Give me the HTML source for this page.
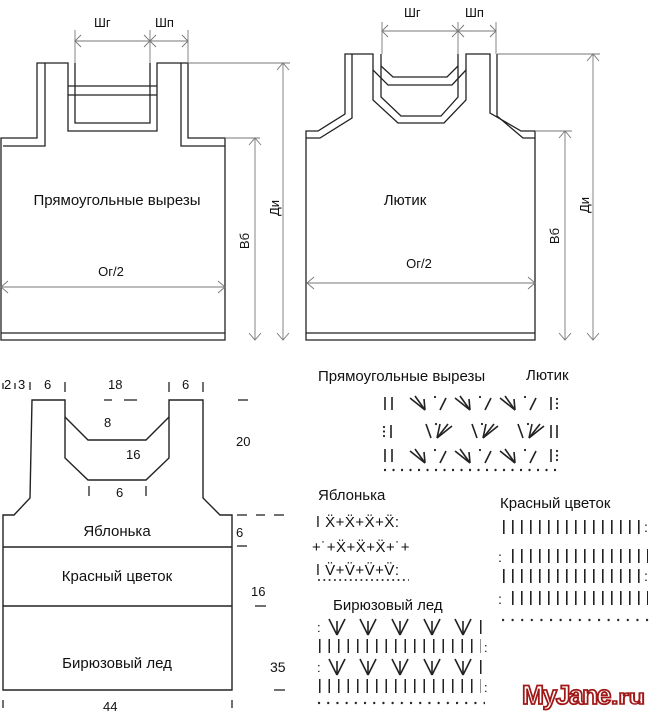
<!DOCTYPE html>
<html><head><meta charset="utf-8"><style>
html,body{margin:0;padding:0;background:#fff;}
svg{display:block;}
text{font-family:"Liberation Sans","DejaVu Sans",sans-serif;fill:#111;}
</style></head><body>
<svg width="650" height="715" viewBox="0 0 650 715" xmlns="http://www.w3.org/2000/svg">
<defs>
<pattern id="bars" x="503" y="0" width="9" height="715" patternUnits="userSpaceOnUse"><rect x="0" y="0" width="1.6" height="715" fill="#222"/></pattern>
<pattern id="bars2" x="319" y="0" width="9.5" height="715" patternUnits="userSpaceOnUse"><rect x="0" y="0" width="1.5" height="715" fill="#222"/></pattern>
<pattern id="dots" x="384" y="0" width="8.5" height="715" patternUnits="userSpaceOnUse"><circle cx="1" cy="470" r="1.2" fill="#222"/></pattern>
<pattern id="dotsK" x="502" y="0" width="9.6" height="715" patternUnits="userSpaceOnUse"><circle cx="1" cy="620" r="1.2" fill="#222"/></pattern>
<pattern id="dotsB" x="318" y="0" width="9.2" height="715" patternUnits="userSpaceOnUse"><circle cx="1" cy="703" r="1.2" fill="#222"/></pattern>
<pattern id="dotsY" x="318" y="0" width="5.3" height="715" patternUnits="userSpaceOnUse"><circle cx="1" cy="580" r="1" fill="#222"/></pattern>
<g id="fanA" stroke="#222" stroke-width="1.6" fill="none"><line x1="0" y1="3" x2="15" y2="15"/><line x1="5" y1="1" x2="15" y2="15"/><line x1="14" y1="4" x2="15" y2="15"/><line x1="30" y1="15" x2="36" y2="3"/><circle cx="25" cy="2" r="1.1" fill="#222" stroke="none"/></g>
<g id="fanB" stroke="#222" stroke-width="1.6" fill="none"><line x1="0" y1="0" x2="5" y2="14"/><line x1="11" y1="14" x2="26" y2="2"/><line x1="11" y1="14" x2="22" y2="0"/><line x1="11" y1="14" x2="14" y2="0"/><circle cx="10" cy="0" r="1.1" fill="#222" stroke="none"/></g>
<g id="vv" stroke="#222" stroke-width="1.6" fill="none"><line x1="-8" y1="0" x2="0" y2="16"/><line x1="8" y1="0" x2="0" y2="16"/><line x1="0" y1="2" x2="0" y2="16"/></g>
</defs>

<!-- Diagram 1 -->
<g stroke="#222" stroke-width="1.3" fill="none">
<path d="M1,340 V138 H37 V63 H68 V131 H157 V63 H188 V138 H225 V340 Z"/>
<path d="M3,146 H45 V63 M75,63 V123 H150 V63 M181,63 V146 H225"/>
<line x1="68" y1="86" x2="157" y2="86"/><line x1="68" y1="95" x2="157" y2="95"/>
<line x1="1" y1="333" x2="225" y2="333"/>
</g>
<g stroke="#777" stroke-width="0.9" fill="none">
<line x1="75" y1="41" x2="188" y2="41"/><line x1="75" y1="30" x2="75" y2="63"/><line x1="150" y1="30" x2="150" y2="63"/><line x1="188" y1="30" x2="188" y2="63"/>
<path d="M81,35 L75,41 L81,47 M144,35 L150,41 L144,47 M156,35 L150,41 L156,47 M182,35 L188,41 L182,47"/>
<line x1="188" y1="63" x2="290" y2="63"/><line x1="283" y1="63" x2="283" y2="340"/>
<path d="M277,70 L283,63 L289,70 M277,333 L283,340 L289,333"/>
<line x1="225" y1="138" x2="260" y2="138"/><line x1="255" y1="138" x2="255" y2="340"/>
<path d="M249,145 L255,138 L261,145 M249,333 L255,340 L261,333"/>
<line x1="1" y1="287" x2="225" y2="287"/>
<path d="M8,281 L1,287 L8,293 M218,281 L225,287 L218,293"/>
</g>
<text x="94" y="27" font-size="13">Шг</text><text x="155" y="27" font-size="13">Шп</text>
<text x="117" y="205" font-size="15" text-anchor="middle">Прямоугольные вырезы</text>
<text x="111" y="276" font-size="13" text-anchor="middle">Ог/2</text>
<text transform="translate(249,241) rotate(-90)" font-size="13" text-anchor="middle">Вб</text>
<text transform="translate(279,208) rotate(-90)" font-size="13" text-anchor="middle">Ди</text>

<!-- Diagram 2 -->
<g stroke="#222" stroke-width="1.3" fill="none">
<path d="M306,340 V131 H318 L345,114 V54 H373 V100 L398,123 H444 L466,100 V54 H490 V113 L521,131 H535 V340 Z"/>
<path d="M306,138 H320 L352,118 V54 M381,54 V97 L401,116 H441 L458,97 V54 M497,54 V116 L523,138 H535"/>
<path d="M381,66 L393,77 H447 L458,66 M373,70 L388,85 H452 L466,70"/>
<line x1="306" y1="333" x2="535" y2="333"/>
</g>
<g stroke="#777" stroke-width="0.9" fill="none">
<line x1="382" y1="31" x2="496" y2="31"/><line x1="382" y1="22" x2="382" y2="54"/><line x1="458" y1="22" x2="458" y2="54"/><line x1="496" y1="22" x2="496" y2="54"/>
<path d="M388,25 L382,31 L388,37 M452,25 L458,31 L452,37 M464,25 L458,31 L464,37 M490,25 L496,31 L490,37"/>
<line x1="497" y1="54" x2="600" y2="54"/><line x1="593" y1="54" x2="593" y2="340"/>
<path d="M587,61 L593,54 L599,61 M587,333 L593,340 L599,333"/>
<line x1="535" y1="131" x2="572" y2="131"/><line x1="565" y1="131" x2="565" y2="340"/>
<path d="M559,138 L565,131 L571,138 M559,333 L565,340 L571,333"/>
<line x1="307" y1="283" x2="535" y2="283"/>
<path d="M314,277 L307,283 L314,289 M528,277 L535,283 L528,289"/>
</g>
<text x="404" y="17" font-size="13">Шг</text><text x="465" y="17" font-size="13">Шп</text>
<text x="405" y="205" font-size="15" text-anchor="middle">Лютик</text>
<text x="419" y="268" font-size="13" text-anchor="middle">Ог/2</text>
<text transform="translate(559,236) rotate(-90)" font-size="13" text-anchor="middle">Вб</text>
<text transform="translate(589,205) rotate(-90)" font-size="13" text-anchor="middle">Ди</text>

<!-- Diagram 3 -->
<g stroke="#222" stroke-width="1.4" fill="none">
<path d="M3,690 V515 H14 L30,498 L32,400 H65 V458 L88,480 H146 L169,458 V400 H203 V498 L220,515 H232 V690 Z"/>
<path d="M65,417 L88,440 H146 L169,417"/>
<line x1="3" y1="547" x2="232" y2="547"/><line x1="3" y1="606" x2="232" y2="606"/>
</g>
<g stroke="#222" stroke-width="1.3">
<line x1="3" y1="383" x2="3" y2="389"/><line x1="15" y1="383" x2="15" y2="389"/><line x1="30" y1="382" x2="30" y2="390"/><line x1="65" y1="382" x2="65" y2="392"/><line x1="169" y1="382" x2="169" y2="392"/><line x1="203" y1="382" x2="203" y2="392"/>
<line x1="104" y1="400" x2="112" y2="400"/><line x1="124" y1="400" x2="137" y2="400"/><line x1="238" y1="400" x2="248" y2="400"/>
<line x1="89" y1="486" x2="89" y2="496"/><line x1="146" y1="486" x2="146" y2="496"/>
<line x1="237" y1="515" x2="247" y2="515"/><line x1="256" y1="515" x2="265" y2="515"/><line x1="274" y1="515" x2="284" y2="515"/>
<line x1="237" y1="546" x2="247" y2="546"/><line x1="255" y1="606" x2="266" y2="606"/><line x1="274" y1="690" x2="285" y2="690"/>
<line x1="3" y1="700" x2="3" y2="708"/><line x1="232" y1="700" x2="232" y2="708"/>
</g>
<text x="4" y="389" font-size="13">2</text><text x="18" y="389" font-size="13">3</text>
<text x="44" y="389" font-size="13">6</text><text x="108" y="389" font-size="13">18</text><text x="182" y="389" font-size="13">6</text>
<text x="104" y="427" font-size="13">8</text><text x="126" y="459" font-size="13">16</text><text x="116" y="497" font-size="13">6</text>
<text x="236" y="446" font-size="13">20</text><text x="236" y="537" font-size="13">6</text><text x="251" y="596" font-size="13">16</text><text x="270" y="672" font-size="14">35</text><text x="103" y="711" font-size="13">44</text>
<text x="117" y="536" font-size="15" text-anchor="middle">Яблонька</text>
<text x="117" y="581" font-size="15" text-anchor="middle">Красный цветок</text>
<text x="117" y="668" font-size="15" text-anchor="middle">Бирюзовый лед</text>

<!-- Patterns -->
<text x="318" y="381" font-size="15">Прямоугольные вырезы</text>
<text x="526" y="380" font-size="15">Лютик</text>
<g stroke="#222" stroke-width="1.6">
<line x1="385" y1="397" x2="385" y2="410"/><line x1="392" y1="397" x2="392" y2="410"/><line x1="551" y1="397" x2="551" y2="410"/>
<line x1="391" y1="425" x2="391" y2="438"/><line x1="551" y1="425" x2="551" y2="438"/><line x1="557" y1="425" x2="557" y2="438"/>
<line x1="385" y1="449" x2="385" y2="462"/><line x1="392" y1="449" x2="392" y2="462"/><line x1="551" y1="449" x2="551" y2="462"/>
</g>
<g fill="#222"><circle cx="557" cy="399" r="1.1"/><circle cx="557" cy="403.5" r="1.1"/><circle cx="557" cy="408" r="1.1"/>
<circle cx="384" cy="427" r="1.1"/><circle cx="384" cy="431.5" r="1.1"/><circle cx="384" cy="436" r="1.1"/>
<circle cx="557" cy="451" r="1.1"/><circle cx="557" cy="455.5" r="1.1"/><circle cx="557" cy="460" r="1.1"/></g>
<use href="#fanA" x="410" y="395"/><use href="#fanA" x="455" y="395"/><use href="#fanA" x="500" y="395"/>
<use href="#fanB" x="426" y="424"/><use href="#fanB" x="472" y="424"/><use href="#fanB" x="518" y="424"/>
<use href="#fanA" x="410" y="448"/><use href="#fanA" x="455" y="448"/><use href="#fanA" x="500" y="448"/>
<rect x="383" y="466" width="174" height="8" fill="url(#dots)"/>

<text x="318" y="500" font-size="15">Яблонька</text>
<text x="316" y="527" font-size="15" letter-spacing="0.5">ǀ Ẍ+Ẍ+Ẍ+Ẍ:</text>
<text x="312" y="552" font-size="15" letter-spacing="0.5">+˙+Ẍ+Ẍ+Ẍ+˙+</text>
<text x="316" y="575" font-size="15" letter-spacing="0.5">ǀ V̈+V̈+V̈+V̈:</text>
<rect x="317" y="577" width="92" height="6" fill="url(#dotsY)"/>

<text x="500" y="508" font-size="15">Красный цветок</text>
<rect x="503" y="520" width="140" height="14" fill="url(#bars)"/>
<rect x="512" y="549" width="136" height="14" fill="url(#bars)"/>
<rect x="503" y="569" width="140" height="14" fill="url(#bars)"/>
<rect x="512" y="591" width="136" height="14" fill="url(#bars)"/>
<text x="498" y="562" font-size="14">:</text><text x="498" y="604" font-size="14">:</text>
<text x="644" y="532" font-size="14">:</text><text x="644" y="581" font-size="14">:</text>
<rect x="501" y="616" width="148" height="8" fill="url(#dotsK)"/>

<text x="333" y="610" font-size="15">Бирюзовый лед</text>
<use href="#vv" x="337" y="619"/><use href="#vv" x="368" y="619"/><use href="#vv" x="400" y="619"/><use href="#vv" x="432" y="619"/><use href="#vv" x="463" y="619"/>
<use href="#vv" x="337" y="659"/><use href="#vv" x="368" y="659"/><use href="#vv" x="400" y="659"/><use href="#vv" x="432" y="659"/><use href="#vv" x="463" y="659"/>
<rect x="319" y="639" width="162" height="14" fill="url(#bars2)"/>
<rect x="319" y="679" width="162" height="14" fill="url(#bars2)"/>
<text x="317" y="632" font-size="13">:</text><text x="317" y="672" font-size="13">:</text>
<rect x="480" y="620" width="1.5" height="14" fill="#222"/><rect x="480" y="660" width="1.5" height="14" fill="#222"/>
<text x="484" y="652" font-size="13">:</text><text x="484" y="692" font-size="13">:</text>
<rect x="317" y="699" width="168" height="8" fill="url(#dotsB)"/>

<text x="522" y="704" font-size="27" font-weight="bold" stroke="#a01818" stroke-width="1.8" letter-spacing="-1.5" textLength="88" lengthAdjust="spacingAndGlyphs" style="fill:#fff">MyJane</text>
<text x="611" y="704" font-size="20" font-weight="bold" stroke="#a01818" stroke-width="1.5" textLength="34" lengthAdjust="spacingAndGlyphs" style="fill:#fff">.ru</text>
</svg>
</body></html>
